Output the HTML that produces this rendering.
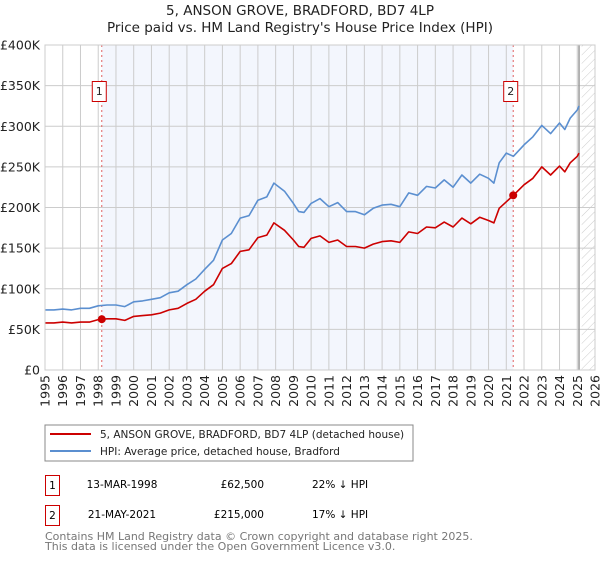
<!DOCTYPE html>
<html><head><meta charset="utf-8"><style>
body{margin:0;background:#fff;font-family:"DejaVu Sans","Liberation Sans",sans-serif;}
</style></head><body>
<svg width="600" height="560" viewBox="0 0 600 560" xmlns="http://www.w3.org/2000/svg" font-family="DejaVu Sans, Liberation Sans, sans-serif">
<defs><pattern id="hatch" width="6" height="6" patternUnits="userSpaceOnUse" patternTransform="rotate(45)"><line x1="0" y1="0" x2="0" y2="6" stroke="#ccc" stroke-width="1"/></pattern></defs>
<text x="300" y="15" text-anchor="middle" font-size="13.5" fill="#222">5, ANSON GROVE, BRADFORD, BD7 4LP</text>
<text x="300" y="32" text-anchor="middle" font-size="13.5" fill="#222">Price paid vs. HM Land Registry's House Price Index (HPI)</text>
<g id="plot"></g>
<rect x="45" y="425" width="368" height="36" fill="#fff" stroke="#888"/>
<line x1="50" y1="434" x2="91" y2="434" stroke="#cc0000" stroke-width="2"/>
<text x="100" y="438" font-size="10.5" fill="#222">5, ANSON GROVE, BRADFORD, BD7 4LP (detached house)</text>
<line x1="50" y1="451" x2="91" y2="451" stroke="#5b8fd0" stroke-width="2"/>
<text x="100" y="455" font-size="10.5" fill="#222">HPI: Average price, detached house, Bradford</text>
<g>
<rect x="45.5" y="475.5" width="14" height="20" fill="#fff" stroke="#cc0000"/>
<text x="52.5" y="489" text-anchor="middle" font-size="10.5">1</text>
<text x="122" y="488" text-anchor="middle" font-size="10.5">13-MAR-1998</text>
<text x="264" y="488" text-anchor="end" font-size="10.5">£62,500</text>
<text x="312" y="488" font-size="10.5">22% ↓ HPI</text></g>
<g>
<rect x="45.5" y="505.5" width="14" height="20" fill="#fff" stroke="#cc0000"/>
<text x="52.5" y="519" text-anchor="middle" font-size="10.5">2</text>
<text x="122" y="518" text-anchor="middle" font-size="10.5">21-MAY-2021</text>
<text x="264" y="518" text-anchor="end" font-size="10.5">£215,000</text>
<text x="312" y="518" font-size="10.5">17% ↓ HPI</text></g>
<text x="45" y="540" font-size="11" fill="#777">Contains HM Land Registry data © Crown copyright and database right 2025.</text>
<text x="45" y="550" font-size="11" fill="#777">This data is licensed under the Open Government Licence v3.0.</text>
</svg>
<script>
const hpiYears=[1995,1995.5,1996,1996.5,1997,1997.5,1998,1998.5,1999,1999.5,2000,2000.5,2001,2001.5,2002,2002.5,2003,2003.5,2004,2004.5,2005,2005.5,2006,2006.5,2007,2007.5,2007.9,2008.5,2009,2009.3,2009.6,2010,2010.5,2011,2011.5,2012,2012.5,2013,2013.5,2014,2014.5,2015,2015.5,2016,2016.5,2017,2017.5,2018,2018.5,2019,2019.5,2020,2020.3,2020.6,2021,2021.4,2022,2022.5,2023,2023.5,2024,2024.3,2024.6,2025,2025.1];
const hpiValues=[74,74,75,74,76,76,79,80,80,78,84,85,87,89,95,97,105,112,124,135,160,168,187,190,209,213,230,220,205,195,194,205,211,201,206,195,195,191,199,203,204,201,218,215,226,224,234,225,240,230,241,236,230,255,267,263,277,287,301,291,304,296,310,320,325];
const ppYears=hpiYears;
const ppValues=[58,58,59,58,59,59,62,63,63,61,66,67,68,70,74,76,82,87,97,105,125,131,146,148,163,166,181,172,160,152,151,162,165,157,160,152,152,150,155,158,159,157,170,168,176,175,182,176,187,180,188,184,181,199,207,215,228,236,250,240,251,244,255,263,267];
const saleYears=[1998.2,2021.39];
const saleValues=[62.5,215];
const saleLabels=["1","2"];
const yTicks=[0,50,100,150,200,250,300,350,400];
const yTickLabels=["£0","£50K","£100K","£150K","£200K","£250K","£300K","£350K","£400K"];
const xTicks=[1995,1996,1997,1998,1999,2000,2001,2002,2003,2004,2005,2006,2007,2008,2009,2010,2011,2012,2013,2014,2015,2016,2017,2018,2019,2020,2021,2022,2023,2024,2025,2026];

const NS="http://www.w3.org/2000/svg";
const L=45,R=595,T=45,B=370;
const X=y=>L+(y-1995)/(2026-1995)*(R-L);
const Y=v=>B-v/400*(B-T);
const g=document.getElementById('plot');
function mk(tag,attrs,parent){const e=document.createElementNS(NS,tag);for(const k in attrs)e.setAttribute(k,attrs[k]);(parent||g).appendChild(e);return e;}
let e;
e=mk('rect',{x:X(saleYears[0]),y:T,width:X(saleYears[1])-X(saleYears[0]),height:B-T,fill:'#f3f6fd'});


e=mk('rect',{x:X(2025.25),y:T,width:R-X(2025.25),height:B-T,fill:'url(#hatch)'});


xTicks.forEach((t,i)=>{
 e=mk('line',{x1:X(t),x2:X(t),y1:T,y2:B,stroke:'#ccc','stroke-width':1});
 
 
 e=mk('text',{x:0,y:0,'font-size':12.5,fill:'#222','text-anchor':'end',transform:`translate(${X(t)+4.5},375) rotate(-90)`});
 e.textContent=t;
 
 
});
yTicks.forEach((t,i)=>{
 e=mk('line',{x1:L,x2:R,y1:Y(t),y2:Y(t),stroke:'#ccc','stroke-width':1});
 
 
 e=mk('text',{x:40,y:Y(t)+4.5,'font-size':12.5,fill:'#222','text-anchor':'end'});
 e.textContent=yTickLabels[i];
 
 
});
e=mk('line',{x1:X(2025.1),x2:X(2025.1),y1:T,y2:B,stroke:'#999','stroke-width':1.5});


saleYears.forEach((s,i)=>{
 e=mk('line',{x1:X(s),x2:X(s),y1:T,y2:B,stroke:'#e06060','stroke-width':1,'stroke-dasharray':'2,3'});
 
 
});
function path(xs,vs,color,name){
 const d=xs.map((x,i)=>(i?'L':'M')+X(x).toFixed(1)+','+Y(vs[i]).toFixed(1)).join('');
 e=mk('path',{d:d,fill:'none',stroke:color,'stroke-width':1.6,'stroke-linejoin':'round'});
 
 
}
path(hpiYears,hpiValues,'#5b8fd0','hpi-line');
path(ppYears,ppValues,'#cc0000','property-line');
saleYears.forEach((s,i)=>{
 e=mk('circle',{cx:X(s),cy:Y(saleValues[i]),r:4,fill:'#cc0000'});
 
 
 e=mk('rect',{x:X(s)-9.5,y:81.5,width:14,height:20,fill:'#fff',stroke:'#cc0000'});
 
 
 e=mk('text',{x:X(s)-2.5,y:95,'font-size':11,'text-anchor':'middle',fill:'#222'});
 e.textContent=saleLabels[i];
 
 
});
e=mk('rect',{x:L,y:T,width:R-L,height:B-T,fill:'none',stroke:'#ccc'});


</script>
</body></html>
